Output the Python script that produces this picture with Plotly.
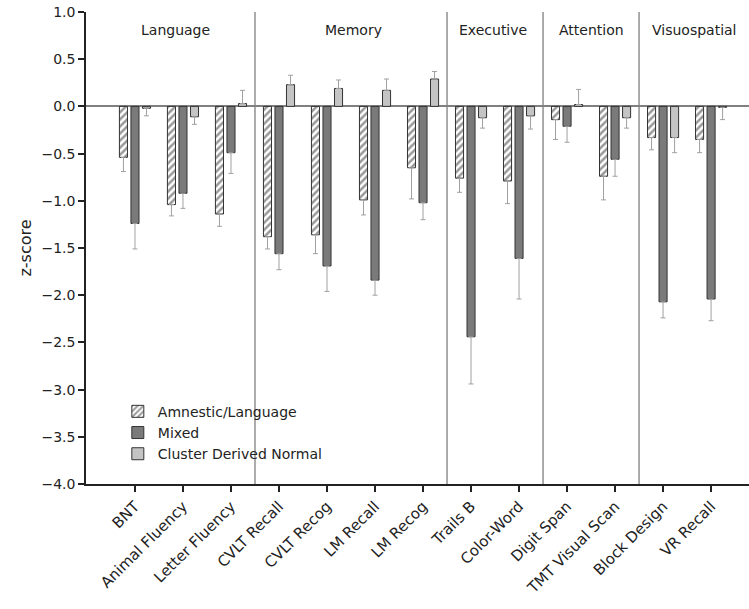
import plotly.graph_objects as go

categories = ["BNT", "Animal Fluency", "Letter Fluency", "CVLT Recall", "CVLT Recog",
              "LM Recall", "LM Recog", "Trails B", "Color-Word", "Digit Span",
              "TMT Visual Scan", "Block Design", "VR Recall"]

amnestic = [-0.54, -1.04, -1.14, -1.38, -1.36, -0.99, -0.65, -0.76, -0.79, -0.14, -0.74, -0.33, -0.35]
amnestic_err = [0.15, 0.12, 0.13, 0.13, 0.20, 0.16, 0.33, 0.15, 0.24, 0.21, 0.25, 0.13, 0.14]
mixed = [-1.24, -0.92, -0.49, -1.56, -1.69, -1.84, -1.02, -2.44, -1.61, -0.21, -0.56, -2.07, -2.04]
mixed_err = [0.27, 0.16, 0.22, 0.17, 0.27, 0.16, 0.18, 0.50, 0.43, 0.17, 0.18, 0.17, 0.23]
normal = [-0.02, -0.11, 0.03, 0.23, 0.19, 0.17, 0.29, -0.12, -0.10, 0.02, -0.12, -0.33, -0.01]
normal_err = [0.08, 0.08, 0.14, 0.10, 0.09, 0.12, 0.08, 0.11, 0.14, 0.16, 0.11, 0.16, 0.13]

domains = ["Language", "Memory", "Executive", "Attention", "Visuospatial"]
domain_centers = [0.85, 4.55, 7.45, 9.5, 11.65]
separators = [2.5, 6.5, 8.5, 10.5]

FONT = "DejaVu Sans, Liberation Sans, sans-serif"


def err_dict(vals, errs):
    plus = [e if v >= 0 else 0 for v, e in zip(vals, errs)]
    minus = [e if v < 0 else 0 for v, e in zip(vals, errs)]
    return dict(type="data", symmetric=False, array=plus, arrayminus=minus,
                color="#a0a0a0", thickness=1, width=2.5)


fig = go.Figure()
fig.add_trace(go.Bar(
    x=categories, y=amnestic, name="Amnestic/Language",
    marker=dict(color="white", line=dict(color="#333333", width=1),
                pattern=dict(shape="/", fgcolor="#333333", bgcolor="white", size=5, solidity=0.5)),
    error_y=err_dict(amnestic, amnestic_err)))
fig.add_trace(go.Bar(
    x=categories, y=mixed, name="Mixed",
    marker=dict(color="#7a7a7a", line=dict(color="#333333", width=1)),
    error_y=err_dict(mixed, mixed_err)))
fig.add_trace(go.Bar(
    x=categories, y=normal, name="Cluster Derived Normal",
    marker=dict(color="#c4c4c4", line=dict(color="#333333", width=1)),
    error_y=err_dict(normal, normal_err)))

shapes = []
for s in separators:
    shapes.append(dict(type="line", xref="x", yref="paper", x0=s, x1=s, y0=0, y1=1,
                       line=dict(color="#909090", width=1.5), layer="below"))

annotations = []
for d, c in zip(domains, domain_centers):
    annotations.append(dict(x=c, y=0.962, xref="x", yref="paper", text=d, showarrow=False,
                            yanchor="middle", xanchor="center",
                            font=dict(size=14, color="#222222", family=FONT)))

fig.update_layout(
    width=749, height=609,
    margin=dict(l=86, r=0, t=12, b=125, autoexpand=False),
    paper_bgcolor="white", plot_bgcolor="white",
    barmode="group", bargap=0.28, bargroupgap=0.3,
    font=dict(family=FONT, color="#222222"),
    shapes=shapes, annotations=annotations,
    showlegend=True,
    legend=dict(x=0.048, y=0.187, xanchor="left", yanchor="top",
                font=dict(size=14, color="#222222", family=FONT),
                bgcolor="rgba(255,255,255,0)", tracegroupgap=0, itemwidth=30),
    xaxis=dict(range=[-1.02, 12.79], showline=True, linecolor="#222222", linewidth=1.5,
               ticks="outside", ticklen=6, tickcolor="#222222", tickwidth=1.5,
               tickangle=-45, tickfont=dict(size=15, color="#222222", family=FONT),
               showgrid=False, zeroline=False, automargin=False, ticklabeloverflow="allow"),
    yaxis=dict(range=[-4, 1], dtick=0.5, tickformat=".1f", showline=True,
               linecolor="#222222", linewidth=1.5, ticks="outside", ticklen=6,
               tickcolor="#222222", tickwidth=1.5, showgrid=False, automargin=False,
               ticklabeloverflow="allow",
               zeroline=True, zerolinecolor="#808080", zerolinewidth=1.5,
               tickfont=dict(size=14, color="#222222", family=FONT),
               title=dict(text="z-score", font=dict(size=16, color="#222222", family=FONT), standoff=6)),
)

fig.write_html("out.html", config={"displayModeBar": False},
               post_script="document.body.style.margin='0';document.body.style.padding='0';document.body.style.overflow='hidden';")
